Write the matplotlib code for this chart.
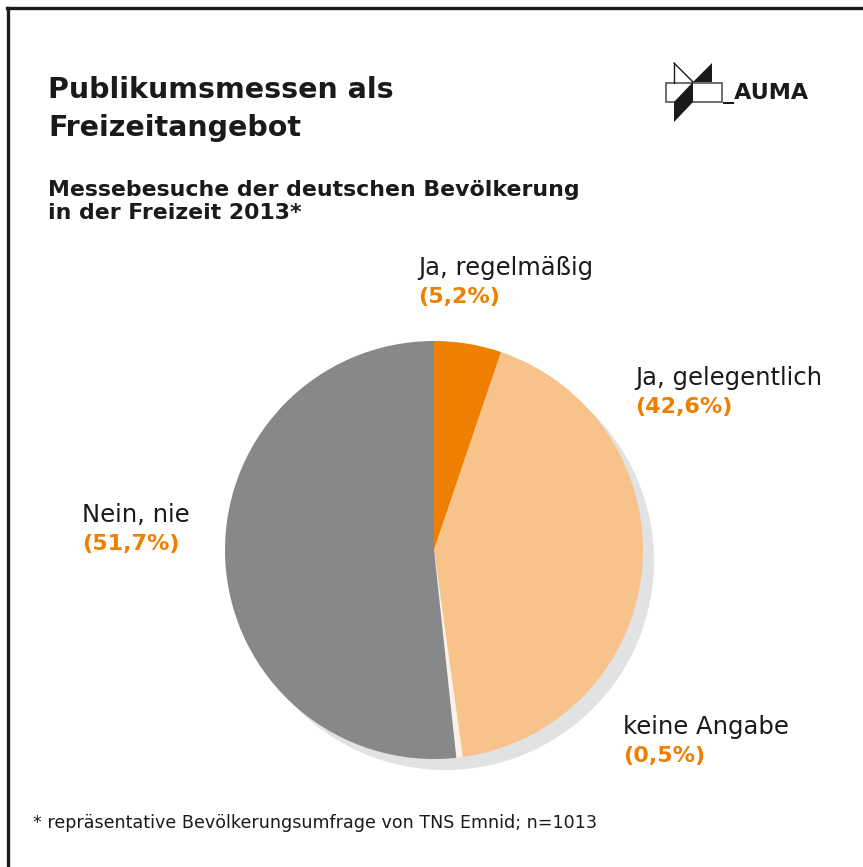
import matplotlib
matplotlib.use("Agg")
import matplotlib.pyplot as plt
from matplotlib.patches import Circle, Polygon, Rectangle
from matplotlib.lines import Line2D

# ---- data ----
categories = ["Ja, regelmäßig", "Ja, gelegentlich", "keine Angabe", "Nein, nie"]
values = [5.2, 42.6, 0.5, 51.7]
value_labels = ["(5,2%)", "(42,6%)", "(0,5%)", "(51,7%)"]
colors = ["#EE7F00", "#F8C28B", "#FBF1E6", "#87888A"]

title_lines = ["Publikumsmessen als", "Freizeitangebot"]
subtitle_lines = ["Messebesuche der deutschen Bevölkerung", "in der Freizeit 2013*"]
footnote = "* repräsentative Bevölkerungsumfrage von TNS Emnid; n=1013"

W, H = 863, 867
fig = plt.figure(figsize=(W / 100, H / 100), dpi=100)
fig.patch.set_facecolor("white")

def fx(px):
    return px / W

def fy(py):
    return 1 - py / H

FONT = ["DejaVu Sans"]
TXT = "#1a1a1a"
ORANGE = "#EE7F00"

# frame lines (top and left)
fig.add_artist(Line2D([fx(7), fx(W)], [fy(8), fy(8)], color="#1a1a1a", lw=2.4))
fig.add_artist(Line2D([fx(7.5), fx(7.5)], [fy(8), fy(H)], color="#1a1a1a", lw=2.4))

# titles
fig.text(fx(48), fy(90), title_lines[0], fontsize=20.5, fontweight="bold", color=TXT,
         family=FONT, va="center", ha="left")
fig.text(fx(48), fy(128), title_lines[1], fontsize=20.5, fontweight="bold", color=TXT,
         family=FONT, va="center", ha="left")
fig.text(fx(48), fy(190), subtitle_lines[0], fontsize=15.8, fontweight="bold", color=TXT,
         family=FONT, va="center", ha="left")
fig.text(fx(48), fy(213), subtitle_lines[1], fontsize=15.8, fontweight="bold", color=TXT,
         family=FONT, va="center", ha="left")

# logo
lw_logo = 1.2
fig.add_artist(Rectangle((fx(666), fy(102)), fx(722) - fx(666), fy(83) - fy(102),
                         facecolor="white", edgecolor="#555555", lw=lw_logo))
fig.add_artist(Polygon([(fx(693), fy(82)), (fx(712), fy(63)), (fx(712), fy(82))],
                       closed=True, facecolor="#1a1a1a", edgecolor="none"))
fig.add_artist(Polygon([(fx(693), fy(82)), (fx(693), fy(102)), (fx(674), fy(122)), (fx(674), fy(102))],
                       closed=True, facecolor="#1a1a1a", edgecolor="none"))
fig.add_artist(Line2D([fx(674), fx(693)], [fy(63), fy(82)], color="#1a1a1a", lw=1.0))
fig.add_artist(Line2D([fx(674), fx(674)], [fy(63), fy(83)], color="#1a1a1a", lw=1.0))
fig.text(fx(723), fy(94), "_AUMA", fontsize=16, fontweight="bold", color=TXT,
         family=FONT, va="center", ha="left")

# pie
cx, cy, R = 434, 550, 209
half = 250
ax = fig.add_axes([fx(cx - half), 1 - (cy + half) / H, 2 * half / W, 2 * half / H])
ax.axis("off")
off = 11 / R
ax.add_patch(Circle((off, -off), 1.0, facecolor="#E1E2E3", edgecolor="none", zorder=0))
ax.pie(values, colors=colors, startangle=90, counterclock=False, radius=1.0,
       wedgeprops=dict(edgecolor="none", linewidth=0))
ax.set_aspect("equal")
ax.set_xlim(-half / R, half / R)
ax.set_ylim(-half / R, half / R)

# labels
label_pos = [(418, 268), (635, 378), (623, 727), (82, 515)]
for cat, vl, (lx, ly) in zip(categories, value_labels, label_pos):
    fig.text(fx(lx), fy(ly), cat, fontsize=17.5, color=TXT, family=FONT, va="center", ha="left")
    fig.text(fx(lx), fy(ly + 29), vl, fontsize=16, fontweight="bold", color=ORANGE,
             family=FONT, va="center", ha="left")

# footnote
fig.text(fx(33), fy(823), footnote, fontsize=12.6, color=TXT,
         family=["Liberation Sans Narrow", "DejaVu Sans"], va="center", ha="left")

fig.savefig("out.png", dpi=100, facecolor="white")
